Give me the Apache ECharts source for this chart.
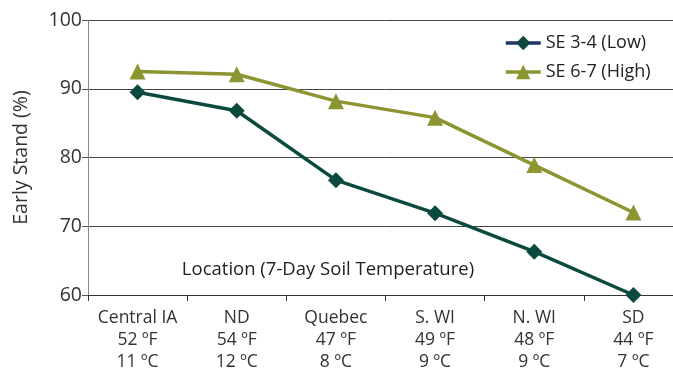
<!DOCTYPE html>
<html>
<head>
<meta charset="utf-8">
<script src="https://cdn.jsdelivr.net/npm/echarts@6/dist/echarts.min.js"></script>
<style>html,body{margin:0;padding:0;background:#fff;overflow:hidden}#c{width:686px;height:373px}</style>
</head>
<body>
<div id="c"></div>
<script>
const locations = ['Central IA', 'ND', 'Quebec', 'S. WI', 'N. WI', 'SD'];
const tempF = ['52 ºF', '54 ºF', '47 ºF', '49 ºF', '48 ºF', '44 ºF'];
const tempC = ['11 ºC', '12 ºC', '8 ºC', '9 ºC', '9 ºC', '7 ºC'];
const lowSE = [89.5, 86.8, 76.7, 71.9, 66.3, 60.0];
const highSE = [92.5, 92.1, 88.2, 85.8, 78.9, 72.0];
const yTicks = [60, 70, 80, 90, 100];

const categories = locations.map((l, i) => l + '\n' + tempF[i] + '\n' + tempC[i]);
const font = '"Open Sans", Lato, sans-serif';
const lowColor = '#0c4a40';
const highColor = '#8c9532';

const chart = echarts.init(document.getElementById('c'));
chart.setOption({
  animation: false,
  backgroundColor: '#fff',
  textStyle: { fontFamily: font },
  grid: { left: 88, right: 3, top: 20, bottom: 78, containLabel: false },
  title: {
    text: 'Location (7-Day Soil Temperature)',
    left: 323, top: 255, textAlign: 'center',
    textStyle: { fontFamily: font, fontSize: 18.5, fontWeight: 'normal', color: '#222' }
  },
  legend: {
    left: 499, top: 29, orient: 'vertical', itemGap: 11,
    itemWidth: 35, itemHeight: 18,
    backgroundColor: '#fff',
    textStyle: { fontFamily: font, fontSize: 18, color: '#222' },
    data: [
      { name: 'SE 3-4 (Low)', lineStyle: { color: '#1f3566', width: 3.5 } },
      { name: 'SE 6-7 (High)', lineStyle: { width: 3.5 } }
    ]
  },
  xAxis: {
    type: 'category', data: categories, boundaryGap: true,
    axisLine: { lineStyle: { color: '#333', width: 1 } },
    axisTick: { show: true, length: 6, alignWithLabel: false, lineStyle: { color: '#333' } },
    axisLabel: { fontFamily: font, fontSize: 17.5, color: '#333', lineHeight: 22, margin: 12, interval: 0 }
  },
  yAxis: {
    type: 'value', min: yTicks[0], max: yTicks[yTicks.length - 1], interval: 10,
    name: 'Early Stand (%)', nameLocation: 'middle', nameGap: 57, nameRotate: 90,
    nameTextStyle: { fontFamily: font, fontSize: 19.5, color: '#333' },
    axisLine: { show: true, lineStyle: { color: '#888' } },
    axisTick: { show: true, length: 6, lineStyle: { color: '#555' } },
    axisLabel: { fontFamily: font, fontSize: 19.5, color: '#333', margin: 6 },
    splitLine: { show: true, lineStyle: { color: '#444', width: 1 } }
  },
  series: [
    {
      name: 'SE 3-4 (Low)', type: 'line', data: lowSE,
      symbol: 'diamond', symbolSize: 16,
      lineStyle: { color: lowColor, width: 3.5 },
      itemStyle: { color: lowColor }
    },
    {
      name: 'SE 6-7 (High)', type: 'line', data: highSE,
      symbol: 'triangle', symbolSize: 16,
      lineStyle: { color: highColor, width: 3.5 },
      itemStyle: { color: highColor }
    }
  ]
});
</script>
</body>
</html>
